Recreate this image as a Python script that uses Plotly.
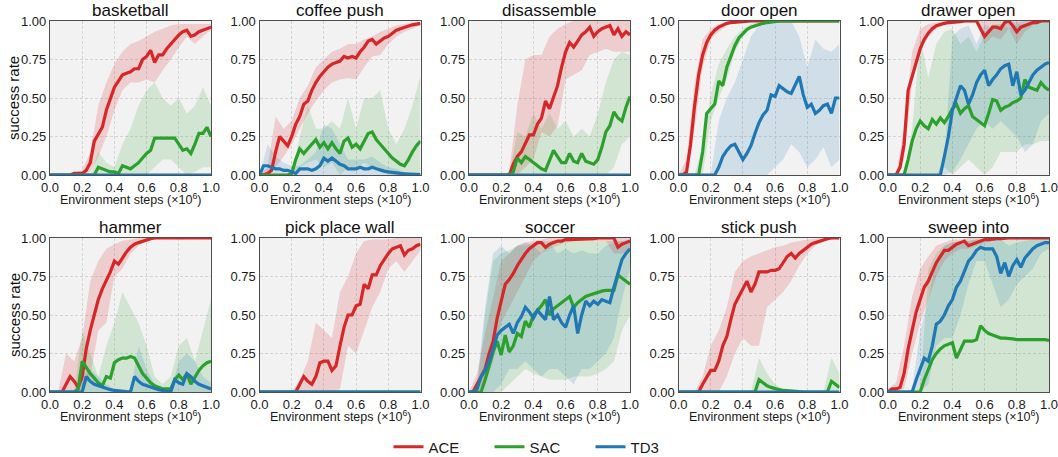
import numpy as np
import plotly.graph_objects as go

# ---------------- data ----------------
STEPS = np.linspace(0, 1, 41)        # environment steps (x1e6) for mean curves
BAND_STEPS = np.linspace(0, 1, 21)   # environment steps for the spread bands

TASKS = ["basketball", "coffee push", "disassemble", "door open", "drawer open",
         "hammer", "pick place wall", "soccer", "stick push", "sweep into"]
ALGOS = ["ACE", "SAC", "TD3"]
X_TICKS = [0.0, 0.2, 0.4, 0.6, 0.8, 1.0]
Y_TICKS = [0.0, 0.25, 0.5, 0.75, 1.0]
X_TICK_TEXT = ["0.0", "0.2", "0.4", "0.6", "0.8", "1.0"]
Y_TICK_TEXT = ["0.00", "0.25", "0.50", "0.75", "1.00"]

ZERO_MEAN = [0.0] * 41
ZERO_BAND = [0.0] * 21

# basketball
basketball_ace = [0, 0, 0, 0, 0, 0, 0.01, 0.01, 0.01, 0.03, 0.08, 0.22, 0.27, 0.31, 0.42, 0.5, 0.57, 0.61, 0.65, 0.66, 0.67,
                  0.69, 0.69, 0.75, 0.77, 0.81, 0.73, 0.78, 0.78, 0.82, 0.85, 0.88, 0.91, 0.93, 0.94, 0.9, 0.91, 0.93, 0.94, 0.95, 0.96]
basketball_ace_lo = [0, 0, 0, 0, 0, 0.02, 0.12, 0.25, 0.42, 0.55, 0.6, 0.6, 0.62, 0.6, 0.68, 0.75, 0.83, 0.9, 0.85, 0.9, 0.94]
basketball_ace_hi = [0, 0, 0, 0.02, 0.03, 0.15, 0.45, 0.6, 0.72, 0.8, 0.85, 0.87, 0.9, 0.93, 0.95, 0.97, 0.98, 0.98, 0.98, 0.98, 0.98]
basketball_sac = [0, 0, 0, 0, 0, 0, 0, 0, 0, 0, 0, 0.0, 0.05, 0.04, 0.03, 0.02, 0.02, 0.01, 0.06, 0.05, 0.04,
                  0.06, 0.08, 0.11, 0.14, 0.16, 0.24, 0.24, 0.24, 0.24, 0.24, 0.24, 0.2, 0.16, 0.17, 0.14, 0.2, 0.27, 0.27, 0.31, 0.25]
basketball_sac_lo = [0, 0, 0, 0, 0, 0, 0, 0, 0, 0, 0, 0, 0, 0.05, 0.1, 0.1, 0.05, 0, 0.02, 0.05, 0.05]
basketball_sac_hi = [0, 0, 0, 0, 0, 0, 0.15, 0.08, 0.05, 0.2, 0.3, 0.45, 0.55, 0.6, 0.5, 0.45, 0.5, 0.4, 0.45, 0.57, 0.45]
basketball_td3 = ZERO_MEAN
basketball_td3_lo = ZERO_BAND
basketball_td3_hi = ZERO_BAND

# coffee push
coffee_ace = [0.0, 0.0, 0.01, 0.03, 0.15, 0.25, 0.22, 0.19, 0.25, 0.33, 0.38, 0.46, 0.48, 0.55, 0.6, 0.64, 0.67, 0.7, 0.72, 0.73, 0.74,
              0.77, 0.76, 0.77, 0.76, 0.8, 0.83, 0.87, 0.88, 0.85, 0.87, 0.89, 0.9, 0.92, 0.94, 0.95, 0.96, 0.97, 0.975, 0.98, 0.985]
coffee_ace_lo = [0, 0, 0.05, 0.12, 0.2, 0.3, 0.4, 0.48, 0.55, 0.6, 0.62, 0.63, 0.62, 0.7, 0.77, 0.78, 0.85, 0.9, 0.93, 0.95, 0.97]
coffee_ace_hi = [0, 0.05, 0.38, 0.3, 0.35, 0.5, 0.58, 0.7, 0.75, 0.8, 0.82, 0.85, 0.85, 0.88, 0.9, 0.93, 0.95, 0.97, 0.98, 0.99, 0.99]
coffee_sac = [0, 0, 0, 0, 0, 0, 0, 0, 0.01, 0.1, 0.17, 0.14, 0.17, 0.2, 0.23, 0.18, 0.21, 0.17, 0.21, 0.17, 0.14,
              0.22, 0.24, 0.18, 0.2, 0.17, 0.22, 0.27, 0.28, 0.23, 0.2, 0.17, 0.14, 0.11, 0.09, 0.07, 0.06, 0.1, 0.15, 0.19, 0.22]
coffee_sac_lo = [0, 0, 0, 0, 0, 0.05, 0.08, 0.1, 0.05, 0.08, 0, 0.05, 0.05, 0.08, 0.05, 0.02, 0, 0, 0, 0, 0]
coffee_sac_hi = [0, 0, 0, 0, 0.01, 0.25, 0.45, 0.3, 0.3, 0.35, 0.3, 0.5, 0.3, 0.5, 0.5, 0.55, 0.3, 0.2, 0.3, 0.45, 0.65]
coffee_td3 = [0.0, 0.06, 0.06, 0.05, 0.04, 0.04, 0.03, 0.03, 0.02, 0.01, 0.04, 0.04, 0.04, 0.03, 0.04, 0.06, 0.11, 0.09, 0.11, 0.09,
              0.07, 0.06, 0.04, 0.04, 0.04, 0.05, 0.04, 0.04, 0.05, 0.04, 0.03, 0.025, 0.02, 0.015, 0.012, 0.01, 0.008, 0.006, 0.004, 0.003, 0.002]
coffee_td3_lo = ZERO_BAND
coffee_td3_hi = [0, 0.2, 0.12, 0.08, 0.06, 0.06, 0.1, 0.15, 0.33, 0.3, 0.2, 0.1, 0.1, 0.1, 0.12, 0.08, 0.05, 0.04, 0.02, 0.01, 0.01]

# disassemble
disassemble_ace = [0, 0, 0, 0, 0, 0, 0, 0, 0, 0, 0.0, 0.07, 0.12, 0.15, 0.2, 0.26, 0.26, 0.33, 0.37, 0.48, 0.43,
                   0.5, 0.58, 0.7, 0.8, 0.86, 0.83, 0.87, 0.91, 0.93, 0.96, 0.9, 0.93, 0.95, 0.96, 0.97, 0.91, 0.95, 0.9, 0.93, 0.91]
disassemble_ace_lo = [0, 0, 0, 0, 0, 0, 0.0, 0.05, 0.1, 0.28, 0.25, 0.32, 0.62, 0.65, 0.68, 0.78, 0.8, 0.82, 0.8, 0.8, 0.8]
disassemble_ace_hi = [0, 0, 0, 0, 0, 0.02, 0.45, 0.75, 0.78, 0.78, 0.9, 0.95, 0.98, 1.0, 1.0, 1.0, 1.0, 1.0, 1.0, 1.0, 1.0]
disassemble_sac = [0, 0, 0, 0, 0, 0, 0, 0, 0, 0, 0, 0.02, 0.11, 0.08, 0.12, 0.1, 0.08, 0.06, 0.04, 0.03, 0.1,
                   0.16, 0.12, 0.08, 0.08, 0.14, 0.09, 0.08, 0.14, 0.09, 0.08, 0.07, 0.1, 0.18, 0.28, 0.32, 0.41, 0.37, 0.35, 0.44, 0.51]
disassemble_sac_lo = [0, 0, 0, 0, 0, 0, 0, 0, 0, 0, 0, 0, 0, 0, 0, 0, 0, 0, 0.05, 0.2, 0.25]
disassemble_sac_hi = [0, 0, 0, 0, 0, 0.0, 0.28, 0.25, 0.4, 0.3, 0.4, 0.3, 0.35, 0.25, 0.3, 0.25, 0.4, 0.6, 0.75, 0.8, 0.78]
disassemble_td3 = ZERO_MEAN
disassemble_td3_lo = ZERO_BAND
disassemble_td3_hi = ZERO_BAND

# door open
door_ace = [0, 0, 0.02, 0.2, 0.45, 0.65, 0.78, 0.86, 0.91, 0.94, 0.96, 0.975, 0.985, 0.99, 0.993, 0.996, 0.998,
            1, 1, 1, 1, 1, 1, 1, 1, 1, 1, 1, 1, 1, 1, 1, 1, 1, 1, 1, 1, 1, 1, 1, 1]
door_ace_lo = [0, 0, 0.3, 0.7, 0.88, 0.93, 0.97, 0.99, 1, 1, 1, 1, 1, 1, 1, 1, 1, 1, 1, 1, 1]
door_ace_hi = [0, 0.1, 0.6, 0.88, 0.95, 0.98, 0.99, 1, 1, 1, 1, 1, 1, 1, 1, 1, 1, 1, 1, 1, 1]
door_sac = [0, 0, 0, 0, 0, 0.0, 0.15, 0.4, 0.43, 0.46, 0.61, 0.58, 0.7, 0.77, 0.84, 0.89, 0.92, 0.945, 0.96, 0.97, 0.98,
            0.985, 0.99, 0.995, 1, 1, 1, 1, 1, 1, 1, 1, 1, 1, 1, 1, 1, 1, 1, 1, 1]
door_sac_lo = [0, 0, 0, 0, 0.35, 0.5, 0.62, 0.8, 0.9, 0.95, 0.98, 0.99, 1, 1, 1, 1, 1, 1, 1, 1, 1]
door_sac_hi = [0, 0, 0, 0.2, 0.52, 0.72, 0.82, 0.9, 0.95, 0.98, 0.99, 1, 1, 1, 1, 1, 1, 1, 1, 1, 1]
door_td3 = [0, 0, 0, 0, 0, 0, 0, 0, 0, 0.0, 0.05, 0.12, 0.16, 0.19, 0.2, 0.15, 0.1, 0.14, 0.19, 0.27, 0.34,
            0.39, 0.42, 0.52, 0.51, 0.58, 0.56, 0.54, 0.53, 0.59, 0.64, 0.52, 0.44, 0.46, 0.4, 0.42, 0.45, 0.46, 0.4, 0.5, 0.5]
door_td3_lo = [0, 0, 0, 0, 0, 0, 0, 0, 0, 0, 0, 0, 0.05, 0.1, 0.2, 0.15, 0.05, 0.1, 0.18, 0.05, 0.1]
door_td3_hi = [0, 0, 0, 0, 0.0, 0.35, 0.5, 0.6, 0.75, 0.9, 0.97, 1, 1, 1, 1, 0.9, 0.7, 0.88, 0.82, 0.8, 0.85]

# drawer open
drawer_ace = [0, 0, 0, 0.05, 0.2, 0.55, 0.65, 0.73, 0.82, 0.88, 0.92, 0.95, 0.97, 0.98, 0.985, 0.99, 0.99, 0.995, 0.995, 1.0, 1.0,
              1.0, 1.0, 0.95, 0.9, 0.93, 0.96, 0.96, 0.95, 0.99, 1.0, 0.97, 0.93, 0.96, 0.97, 0.98, 0.99, 0.99, 1.0, 1.0, 1.0]
drawer_ace_lo = [0, 0, 0.1, 0.6, 0.8, 0.9, 0.95, 0.97, 0.98, 0.99, 0.99, 0.99, 0.85, 0.9, 0.88, 0.95, 0.85, 0.93, 0.97, 0.99, 1.0]
drawer_ace_hi = [0, 0, 0.3, 0.8, 0.95, 0.98, 0.99, 1, 1, 1, 1, 1, 1, 1, 1, 1, 1, 1, 1, 1, 1]
drawer_sac = [0, 0, 0, 0, 0.0, 0.1, 0.22, 0.3, 0.35, 0.32, 0.3, 0.36, 0.33, 0.37, 0.34, 0.38, 0.43, 0.46, 0.4, 0.43, 0.45,
              0.38, 0.36, 0.34, 0.32, 0.4, 0.49, 0.48, 0.42, 0.44, 0.45, 0.47, 0.48, 0.5, 0.62, 0.57, 0.56, 0.55, 0.6, 0.57, 0.55]
drawer_sac_lo = [0, 0, 0, 0, 0, 0, 0, 0.05, 0.0, 0.05, 0.1, 0.05, 0.0, 0.05, 0.15, 0.15, 0.15, 0.2, 0.2, 0.22, 0.22]
drawer_sac_hi = [0, 0, 0.0, 0.3, 0.9, 0.63, 0.85, 0.93, 0.95, 0.85, 0.9, 0.8, 0.92, 0.98, 0.98, 0.95, 0.98, 0.98, 0.99, 0.99, 0.99]
drawer_td3 = [0, 0, 0, 0, 0, 0, 0, 0, 0, 0, 0, 0, 0, 0, 0.12, 0.25, 0.42, 0.5, 0.58, 0.55, 0.46,
              0.52, 0.6, 0.65, 0.68, 0.58, 0.62, 0.65, 0.69, 0.71, 0.72, 0.58, 0.67, 0.52, 0.55, 0.6, 0.65, 0.68, 0.7, 0.72, 0.73]
drawer_td3_lo = [0, 0, 0, 0, 0, 0, 0, 0, 0.02, 0.1, 0.2, 0.3, 0.35, 0.3, 0.35, 0.3, 0.25, 0.15, 0.2, 0.35, 0.4]
drawer_td3_hi = [0, 0, 0, 0, 0, 0, 0, 0.1, 0.9, 0.95, 0.97, 0.85, 0.98, 0.95, 0.98, 0.99, 0.99, 1, 1, 1, 1]

# hammer
hammer_ace = [0, 0, 0, 0.0, 0.05, 0.1, 0.07, 0.03, 0.1, 0.28, 0.4, 0.5, 0.6, 0.67, 0.72, 0.78, 0.85, 0.83, 0.87, 0.91, 0.94,
              0.96, 0.97, 0.98, 0.99, 0.995, 1, 1, 1, 1, 1, 1, 1, 1, 1, 1, 1, 1, 1, 1, 1]
hammer_ace_lo = [0, 0, 0, 0, 0, 0.1, 0.4, 0.45, 0.75, 0.8, 0.9, 0.95, 0.98, 0.99, 1, 1, 1, 1, 1, 1, 1]
hammer_ace_hi = [0, 0, 0.25, 0.2, 0.35, 0.72, 0.85, 0.93, 0.96, 0.98, 0.99, 1, 1, 1, 1, 1, 1, 1, 1, 1, 1]
hammer_sac = [0, 0, 0, 0, 0, 0, 0, 0.02, 0.2, 0.16, 0.12, 0.09, 0.06, 0.04, 0.1, 0.09, 0.19, 0.21, 0.22, 0.22, 0.23,
              0.22, 0.17, 0.12, 0.09, 0.06, 0.04, 0.03, 0.02, 0.02, 0.02, 0.08, 0.11, 0.08, 0.12, 0.05, 0.1, 0.14, 0.17, 0.19, 0.2]
hammer_sac_lo = ZERO_BAND
hammer_sac_hi = [0, 0, 0, 0, 0.4, 0.25, 0.1, 0.3, 0.45, 0.65, 0.55, 0.45, 0.3, 0.1, 0.05, 0.1, 0.3, 0.35, 0.2, 0.4, 0.6]
hammer_td3 = [0, 0, 0, 0, 0, 0, 0, 0, 0.0, 0.1, 0.07, 0.05, 0.04, 0.03, 0.02, 0.015, 0.01, 0.007, 0.005, 0.003, 0.0,
              0.1, 0.07, 0.05, 0.04, 0.03, 0.02, 0.015, 0.01, 0.005, 0.0, 0.08, 0.06, 0.05, 0.12, 0.1, 0.07, 0.05, 0.04, 0.03, 0.02]
hammer_td3_lo = ZERO_BAND
hammer_td3_hi = [0, 0, 0, 0, 0.1, 0.15, 0.1, 0.05, 0.02, 0.01, 0.01, 0.3, 0.15, 0.05, 0.02, 0.01, 0.2, 0.25, 0.2, 0.1, 0.06]

# pick place wall
pick_ace = [0, 0, 0, 0, 0, 0, 0, 0, 0, 0.0, 0.05, 0.1, 0.07, 0.05, 0.1, 0.19, 0.2, 0.2, 0.14, 0.17, 0.3,
            0.42, 0.5, 0.5, 0.56, 0.57, 0.7, 0.67, 0.76, 0.76, 0.82, 0.86, 0.9, 0.93, 0.94, 0.95, 0.89, 0.92, 0.93, 0.95, 0.96]
pick_ace_lo = [0, 0, 0, 0, 0, 0, 0, 0, 0, 0, 0.02, 0.3, 0.25, 0.4, 0.55, 0.65, 0.8, 0.85, 0.78, 0.85, 0.92]
pick_ace_hi = [0, 0, 0, 0, 0, 0.08, 0.2, 0.45, 0.4, 0.35, 0.65, 0.75, 0.9, 0.98, 0.99, 0.99, 0.99, 1, 1, 1, 1]
pick_sac = ZERO_MEAN
pick_sac_lo = ZERO_BAND
pick_sac_hi = ZERO_BAND
pick_td3 = ZERO_MEAN
pick_td3_lo = ZERO_BAND
pick_td3_hi = ZERO_BAND

# soccer
soccer_ace = [0, 0.0, 0.05, 0.1, 0.15, 0.25, 0.33, 0.48, 0.6, 0.7, 0.73, 0.77, 0.82, 0.86, 0.9, 0.93, 0.95, 0.97, 0.97, 0.94, 0.96,
              0.97, 0.98, 0.98, 0.99, 0.99, 0.99, 0.99, 0.99, 0.995, 0.995, 0.995, 1, 1, 1, 1, 1, 0.94, 0.96, 0.97, 0.98]
soccer_ace_lo = [0, 0, 0.05, 0.2, 0.45, 0.55, 0.65, 0.75, 0.85, 0.9, 0.93, 0.95, 0.97, 0.98, 0.98, 0.98, 0.98, 0.98, 0.9, 0.9, 0.92]
soccer_ace_hi = [0, 0.12, 0.38, 0.62, 0.85, 0.9, 0.95, 0.97, 0.98, 0.99, 1, 1, 1, 1, 1, 1, 1, 1, 1, 1, 1]
soccer_sac = [0, 0, 0, 0.0, 0.08, 0.18, 0.26, 0.33, 0.24, 0.37, 0.26, 0.3, 0.38, 0.36, 0.46, 0.42, 0.5, 0.53, 0.56, 0.6, 0.5,
              0.54, 0.56, 0.58, 0.6, 0.62, 0.55, 0.58, 0.6, 0.62, 0.63, 0.64, 0.65, 0.655, 0.66, 0.66, 0.66, 0.76, 0.74, 0.72, 0.7]
soccer_sac_lo = [0, 0, 0, 0, 0, 0.05, 0.1, 0.15, 0.12, 0.1, 0.08, 0.08, 0.08, 0.1, 0.1, 0.1, 0.12, 0.15, 0.2, 0.4, 0.5]
soccer_sac_hi = [0, 0, 0.5, 0.85, 0.9, 0.92, 0.95, 0.95, 0.97, 0.98, 0.98, 0.98, 0.98, 0.98, 0.98, 0.98, 0.98, 0.98, 0.98, 0.98, 0.98]
soccer_td3 = [0, 0.0, 0.02, 0.1, 0.14, 0.2, 0.28, 0.37, 0.4, 0.42, 0.44, 0.38, 0.45, 0.49, 0.55, 0.52, 0.48, 0.53, 0.5, 0.47, 0.62,
              0.47, 0.5, 0.45, 0.42, 0.5, 0.56, 0.38, 0.5, 0.59, 0.56, 0.59, 0.57, 0.6, 0.59, 0.58, 0.68, 0.78, 0.86, 0.9, 0.93]
soccer_td3_lo = [0, 0, 0, 0.0, 0.05, 0.15, 0.15, 0.2, 0.15, 0.1, 0.15, 0.15, 0.1, 0.05, 0.15, 0.15, 0.2, 0.25, 0.35, 0.6, 0.8]
soccer_td3_hi = [0, 0.05, 0.55, 0.9, 0.95, 0.9, 0.95, 0.97, 0.95, 0.9, 0.97, 0.9, 0.93, 0.9, 0.92, 0.9, 0.9, 0.95, 0.97, 0.98, 0.99]

# stick push
stick_ace = [0, 0, 0, 0, 0, 0.0, 0.05, 0.1, 0.14, 0.14, 0.2, 0.3, 0.36, 0.47, 0.57, 0.62, 0.67, 0.72, 0.65, 0.7, 0.78,
             0.78, 0.78, 0.79, 0.79, 0.8, 0.84, 0.88, 0.9, 0.87, 0.9, 0.92, 0.94, 0.96, 0.97, 0.98, 0.99, 0.995, 1, 1, 1]
stick_ace_lo = [0, 0, 0, 0, 0, 0, 0.1, 0.25, 0.35, 0.3, 0.3, 0.55, 0.6, 0.65, 0.72, 0.82, 0.9, 0.95, 0.98, 0.99, 1.0]
stick_ace_hi = [0, 0, 0.0, 0.1, 0.3, 0.4, 0.55, 0.78, 0.85, 0.88, 0.9, 0.92, 0.94, 0.95, 0.97, 0.98, 0.99, 0.995, 1, 1, 1]
stick_sac = [0, 0, 0, 0, 0, 0, 0, 0, 0, 0, 0, 0, 0, 0, 0, 0, 0, 0, 0, 0.0, 0.08,
             0.06, 0.04, 0.03, 0.02, 0.015, 0.01, 0.007, 0.005, 0.003, 0.002, 0.001, 0, 0, 0, 0, 0, 0, 0.07, 0.05, 0.03]
stick_sac_lo = ZERO_BAND
stick_sac_hi = [0, 0, 0, 0, 0, 0, 0, 0, 0, 0, 0.22, 0.12, 0.05, 0.02, 0.01, 0, 0, 0, 0, 0.22, 0.12]
stick_td3 = ZERO_MEAN
stick_td3_lo = ZERO_BAND
stick_td3_hi = ZERO_BAND

# sweep into
sweep_ace = [0.0, 0.02, 0.02, 0.03, 0.12, 0.28, 0.4, 0.52, 0.6, 0.68, 0.72, 0.78, 0.84, 0.88, 0.92, 0.92, 0.94, 0.96, 0.97, 0.98, 0.95,
             0.96, 0.97, 0.98, 0.99, 0.99, 0.995, 0.995, 0.995, 1, 1, 1, 1, 1, 1, 1, 1, 1, 1, 1, 1]
sweep_ace_lo = [0, 0, 0.02, 0.25, 0.45, 0.6, 0.75, 0.85, 0.9, 0.93, 0.93, 0.95, 0.97, 0.98, 0.99, 0.99, 0.99, 0.99, 0.99, 0.99, 0.99]
sweep_ace_hi = [0.02, 0.06, 0.3, 0.62, 0.8, 0.88, 0.95, 0.97, 0.99, 0.99, 1, 1, 1, 1, 1, 1, 1, 1, 1, 1, 1]
sweep_sac = [0, 0, 0, 0, 0, 0, 0, 0, 0.0, 0.08, 0.15, 0.21, 0.25, 0.28, 0.3, 0.31, 0.32, 0.22, 0.27, 0.33, 0.33,
             0.33, 0.34, 0.43, 0.4, 0.38, 0.37, 0.36, 0.35, 0.35, 0.35, 0.345, 0.34, 0.34, 0.34, 0.34, 0.34, 0.345, 0.34, 0.34, 0.335]
sweep_sac_lo = ZERO_BAND
sweep_sac_hi = [0, 0, 0, 0, 0.0, 0.8, 0.9, 0.95, 0.97, 0.98, 0.98, 0.99, 0.99, 0.99, 0.99, 0.99, 0.99, 0.99, 0.99, 0.99, 0.99]
sweep_td3 = [0, 0, 0, 0, 0, 0, 0.0, 0.08, 0.15, 0.22, 0.2, 0.3, 0.44, 0.46, 0.5, 0.56, 0.6, 0.68, 0.72, 0.78, 0.85,
             0.88, 0.92, 0.94, 0.93, 0.93, 0.93, 0.88, 0.77, 0.84, 0.75, 0.82, 0.86, 0.81, 0.87, 0.9, 0.93, 0.95, 0.96, 0.97, 0.97]
sweep_td3_lo = [0, 0, 0, 0, 0, 0.05, 0.3, 0.35, 0.35, 0.5, 0.7, 0.85, 0.85, 0.7, 0.55, 0.6, 0.7, 0.75, 0.8, 0.9, 0.93]
sweep_td3_hi = [0, 0, 0, 0.02, 0.4, 0.6, 0.85, 0.95, 0.97, 0.98, 0.98, 0.99, 0.99, 0.99, 0.99, 0.95, 0.97, 0.98, 0.99, 0.99, 0.99]

DATA = {
    "basketball": [(basketball_ace, basketball_ace_lo, basketball_ace_hi), (basketball_sac, basketball_sac_lo, basketball_sac_hi), (basketball_td3, basketball_td3_lo, basketball_td3_hi)],
    "coffee push": [(coffee_ace, coffee_ace_lo, coffee_ace_hi), (coffee_sac, coffee_sac_lo, coffee_sac_hi), (coffee_td3, coffee_td3_lo, coffee_td3_hi)],
    "disassemble": [(disassemble_ace, disassemble_ace_lo, disassemble_ace_hi), (disassemble_sac, disassemble_sac_lo, disassemble_sac_hi), (disassemble_td3, disassemble_td3_lo, disassemble_td3_hi)],
    "door open": [(door_ace, door_ace_lo, door_ace_hi), (door_sac, door_sac_lo, door_sac_hi), (door_td3, door_td3_lo, door_td3_hi)],
    "drawer open": [(drawer_ace, drawer_ace_lo, drawer_ace_hi), (drawer_sac, drawer_sac_lo, drawer_sac_hi), (drawer_td3, drawer_td3_lo, drawer_td3_hi)],
    "hammer": [(hammer_ace, hammer_ace_lo, hammer_ace_hi), (hammer_sac, hammer_sac_lo, hammer_sac_hi), (hammer_td3, hammer_td3_lo, hammer_td3_hi)],
    "pick place wall": [(pick_ace, pick_ace_lo, pick_ace_hi), (pick_sac, pick_sac_lo, pick_sac_hi), (pick_td3, pick_td3_lo, pick_td3_hi)],
    "soccer": [(soccer_ace, soccer_ace_lo, soccer_ace_hi), (soccer_sac, soccer_sac_lo, soccer_sac_hi), (soccer_td3, soccer_td3_lo, soccer_td3_hi)],
    "stick push": [(stick_ace, stick_ace_lo, stick_ace_hi), (stick_sac, stick_sac_lo, stick_sac_hi), (stick_td3, stick_td3_lo, stick_td3_hi)],
    "sweep into": [(sweep_ace, sweep_ace_lo, sweep_ace_hi), (sweep_sac, sweep_sac_lo, sweep_sac_hi), (sweep_td3, sweep_td3_lo, sweep_td3_hi)],
}

# ---------------- style ----------------
W, H = 1058, 457
FONT = "Liberation Sans, Arial, sans-serif"
LINE_COLORS = {"ACE": "#d62728", "SAC": "#2ca02c", "TD3": "#1f77b4"}
BAND_COLORS = {"ACE": "rgba(214,39,40,0.18)", "SAC": "rgba(44,160,44,0.16)", "TD3": "rgba(31,119,180,0.16)"}
COL_LEFT_PX = [50, 259.5, 469, 678.5, 888]
PLOT_W_PX = 161
ROW_TOP_PX = [21, 238]
PLOT_H_PX = 154

fig = go.Figure()
layout = dict(
    width=W, height=H, margin=dict(l=0, r=0, t=0, b=0, autoexpand=False),
    paper_bgcolor="white", plot_bgcolor="#f2f2f2",
    font=dict(family=FONT, color="#1a1a1a"),
    showlegend=True,
    legend=dict(orientation="h", x=0.5 + 11 / W, xanchor="center", y=1 - 447 / H, yanchor="middle",
                font=dict(size=15, family=FONT, color="#1a1a1a"), itemwidth=30,
                entrywidth=56, entrywidthmode="pixels", bgcolor="rgba(0,0,0,0)"),
)
annotations = []

for k, task in enumerate(TASKS):
    r, c = divmod(k, 5)
    idx = k + 1
    xname = "x" if idx == 1 else f"x{idx}"
    yname = "y" if idx == 1 else f"y{idx}"
    x0 = COL_LEFT_PX[c] / W
    x1 = (COL_LEFT_PX[c] + PLOT_W_PX) / W
    y1 = 1 - ROW_TOP_PX[r] / H
    y0 = 1 - (ROW_TOP_PX[r] + PLOT_H_PX) / H
    axcommon = dict(showline=True, linecolor="#4d4d4d", linewidth=1.2, mirror=True, automargin=False,
                    showgrid=True, gridcolor="#d4d4d4", gridwidth=0.8, griddash="3px,2px",
                    zeroline=False, ticks="", tickfont=dict(size=13, family=FONT, color="#1a1a1a"),
                    ticklabeloverflow="allow", fixedrange=True)
    layout["xaxis" if idx == 1 else f"xaxis{idx}"] = dict(
        domain=[x0, x1], anchor=yname, range=[0, 1], tickvals=X_TICKS, ticktext=X_TICK_TEXT, **axcommon)
    layout["yaxis" if idx == 1 else f"yaxis{idx}"] = dict(
        domain=[y0, y1], anchor=xname, range=[0, 1], tickvals=Y_TICKS, ticktext=Y_TICK_TEXT, **axcommon)

    series = DATA[task]
    # bands first
    for a, (m, lo, hi) in zip(ALGOS, series):
        if max(hi) == 0 and max(lo) == 0:
            continue
        bx = list(BAND_STEPS) + list(BAND_STEPS[::-1])
        by = list(hi) + list(lo[::-1])
        fig.add_trace(go.Scatter(x=bx, y=by, xaxis=xname, yaxis=yname, mode="lines",
                                 line=dict(width=0), fill="toself", fillcolor=BAND_COLORS[a],
                                 hoverinfo="skip", showlegend=False))
    for a, (m, lo, hi) in zip(ALGOS, series):
        fig.add_trace(go.Scatter(x=STEPS, y=m, xaxis=xname, yaxis=yname, mode="lines",
                                 line=dict(color=LINE_COLORS[a], width=3.2), name=a,
                                 legendgroup=a, showlegend=(k == 0)))

    xc = (x0 + x1) / 2
    annotations.append(dict(text=task, x=xc, y=y1, xref="paper", yref="paper", xanchor="center",
                            yanchor="bottom", showarrow=False, yshift=-1,
                            font=dict(size=17, family=FONT, color="#111111")))
    annotations.append(dict(text="Environment steps (×10<sup>6</sup>)", x=xc,
                            y=1 - (ROW_TOP_PX[r] + 178) / H, xref="paper", yref="paper",
                            xanchor="center", yanchor="middle", showarrow=False,
                            font=dict(size=12.5, family=FONT, color="#1a1a1a")))
    if c == 0:
        annotations.append(dict(text="success rate", x=14 / W, y=(y0 + y1) / 2, xref="paper", yref="paper",
                                xanchor="center", yanchor="middle", textangle=-90, showarrow=False,
                                font=dict(size=15, family=FONT, color="#111111")))

layout["annotations"] = annotations
fig.update_layout(**layout)
fig.write_html("out.html", config={"displayModeBar": False},
               post_script="document.body.style.margin='0px';document.body.style.overflow='hidden';")
